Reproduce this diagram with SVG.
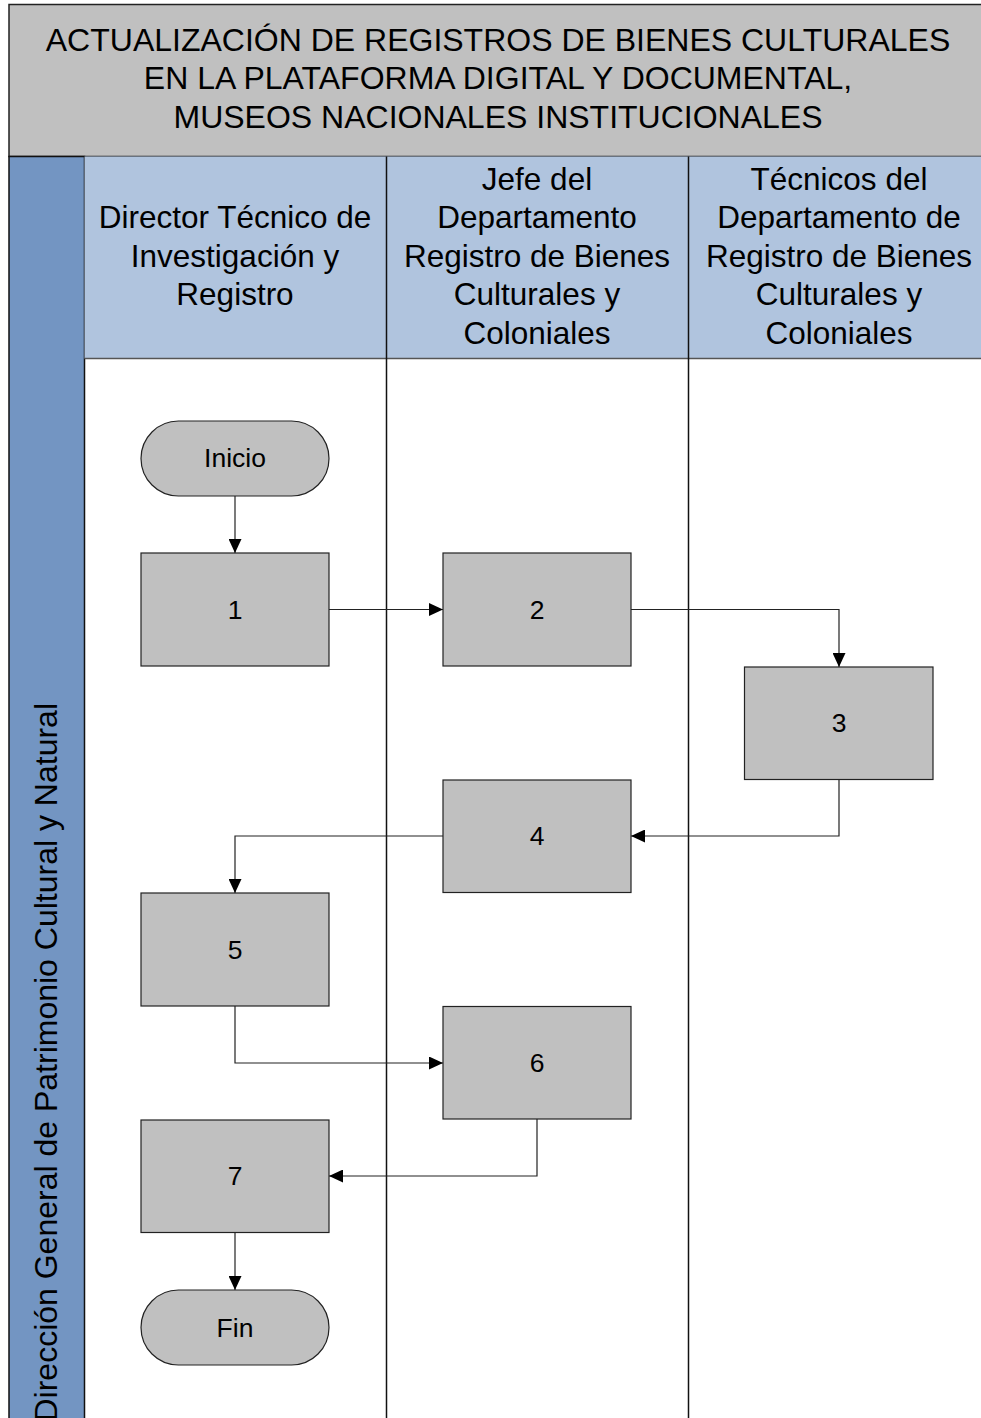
<svg xmlns="http://www.w3.org/2000/svg" width="981" height="1418" viewBox="0 0 981 1418">
  <style>
    .title { font-family: "Liberation Sans", Arial, sans-serif; font-size: 32px; fill: #000; text-anchor: middle; }
    .hdr { font-family: "Liberation Sans", Arial, sans-serif; font-size: 31.5px; fill: #000; text-anchor: middle; }
    .band-text { font-family: "Liberation Sans", Arial, sans-serif; font-size: 32px; fill: #000; text-anchor: end; }
    .lbl { font-family: "Liberation Sans", Arial, sans-serif; font-size: 26.5px; fill: #000; text-anchor: middle; }
    .node { fill: #c0c0c0; stroke: #222; stroke-width: 1.2; }
    .conn { fill: none; stroke: #222; stroke-width: 1.2; }
    .lane { stroke: #111; stroke-width: 1.5; }
  </style>
  <defs>
    <marker id="arrow" viewBox="0 0 14 13" refX="14" refY="6.5" markerWidth="14" markerHeight="13" markerUnits="userSpaceOnUse" orient="auto">
      <path d="M0,0 L14,6.5 L0,13 Z" fill="#000"/>
    </marker>
  </defs>

  <rect width="981" height="1418" fill="#fff"/>

  <!-- pool title -->
  <g id="pool-title">
    <rect x="9" y="4.5" width="980" height="152" fill="#c0c0c0" stroke="#222" stroke-width="1.5"/>
    <text class="title" x="498" y="50.5">ACTUALIZACIÓN DE REGISTROS DE BIENES CULTURALES</text>
    <text class="title" x="498" y="89">EN LA PLATAFORMA DIGITAL Y DOCUMENTAL,</text>
    <text class="title" x="498" y="127.5">MUSEOS NACIONALES INSTITUCIONALES</text>
  </g>

  <!-- vertical band -->
  <g id="band">
    <rect x="9" y="156.5" width="75.5" height="1270" fill="#7395c2" stroke="#111" stroke-width="1.5"/>
    <text class="band-text" transform="translate(57,703) rotate(-90)">Dirección General de Patrimonio Cultural y Natural</text>
  </g>

  <!-- lane headers -->
  <g id="lane-headers">
    <rect x="84.5" y="156.5" width="900" height="202" fill="#b0c4de"/>
    <line x1="84.5" y1="358.5" x2="981" y2="358.5" stroke="#555" stroke-width="1.5"/>
    <text class="hdr" x="235" y="228">Director Técnico de</text>
    <text class="hdr" x="235" y="266.5">Investigación y</text>
    <text class="hdr" x="235" y="305">Registro</text>

    <text class="hdr" x="537" y="190">Jefe del</text>
    <text class="hdr" x="537" y="228">Departamento</text>
    <text class="hdr" x="537" y="266.5">Registro de Bienes</text>
    <text class="hdr" x="537" y="305">Culturales y</text>
    <text class="hdr" x="537" y="343.5">Coloniales</text>

    <text class="hdr" x="839" y="190">Técnicos del</text>
    <text class="hdr" x="839" y="228">Departamento de</text>
    <text class="hdr" x="839" y="266.5">Registro de Bienes</text>
    <text class="hdr" x="839" y="305">Culturales y</text>
    <text class="hdr" x="839" y="343.5">Coloniales</text>
  </g>

  <!-- lane dividers -->
  <g id="lanes">
    <line class="lane" x1="386.5" y1="156.5" x2="386.5" y2="1418"/>
    <line class="lane" x1="688.5" y1="156.5" x2="688.5" y2="1418"/>
  </g>

  <!-- connectors -->
  <g id="connectors">
    <path class="conn" d="M235,496 V553" marker-end="url(#arrow)"/>
    <path class="conn" d="M329,609.5 H443" marker-end="url(#arrow)"/>
    <path class="conn" d="M631,609.5 H839 V667" marker-end="url(#arrow)"/>
    <path class="conn" d="M839,779 V836 H631" marker-end="url(#arrow)"/>
    <path class="conn" d="M443,836 H235 V893" marker-end="url(#arrow)"/>
    <path class="conn" d="M235,1006 V1063 H443" marker-end="url(#arrow)"/>
    <path class="conn" d="M537,1119 V1176 H329" marker-end="url(#arrow)"/>
    <path class="conn" d="M235,1232 V1290" marker-end="url(#arrow)"/>
  </g>

  <!-- nodes -->
  <g id="inicio">
    <rect class="node" x="141" y="421" width="188" height="75" rx="37.5" ry="37.5"/>
    <text class="lbl" x="235" y="466.5">Inicio</text>
  </g>
  <g id="step1">
    <rect class="node" x="141" y="553" width="188" height="113"/>
    <text class="lbl" x="235" y="618.5">1</text>
  </g>
  <g id="step2">
    <rect class="node" x="443" y="553" width="188" height="113"/>
    <text class="lbl" x="537" y="618.5">2</text>
  </g>
  <g id="step3">
    <rect class="node" x="744.5" y="667" width="188.5" height="112.5"/>
    <text class="lbl" x="839" y="731.5">3</text>
  </g>
  <g id="step4">
    <rect class="node" x="443" y="780" width="188" height="112.5"/>
    <text class="lbl" x="537" y="845">4</text>
  </g>
  <g id="step5">
    <rect class="node" x="141" y="893" width="188" height="113"/>
    <text class="lbl" x="235" y="958.5">5</text>
  </g>
  <g id="step6">
    <rect class="node" x="443" y="1006.5" width="188" height="112.5"/>
    <text class="lbl" x="537" y="1072">6</text>
  </g>
  <g id="step7">
    <rect class="node" x="141" y="1120" width="188" height="112.5"/>
    <text class="lbl" x="235" y="1185">7</text>
  </g>
  <g id="fin">
    <rect class="node" x="141" y="1290" width="188" height="75" rx="37.5" ry="37.5"/>
    <text class="lbl" x="235" y="1336.5">Fin</text>
  </g>
</svg>
